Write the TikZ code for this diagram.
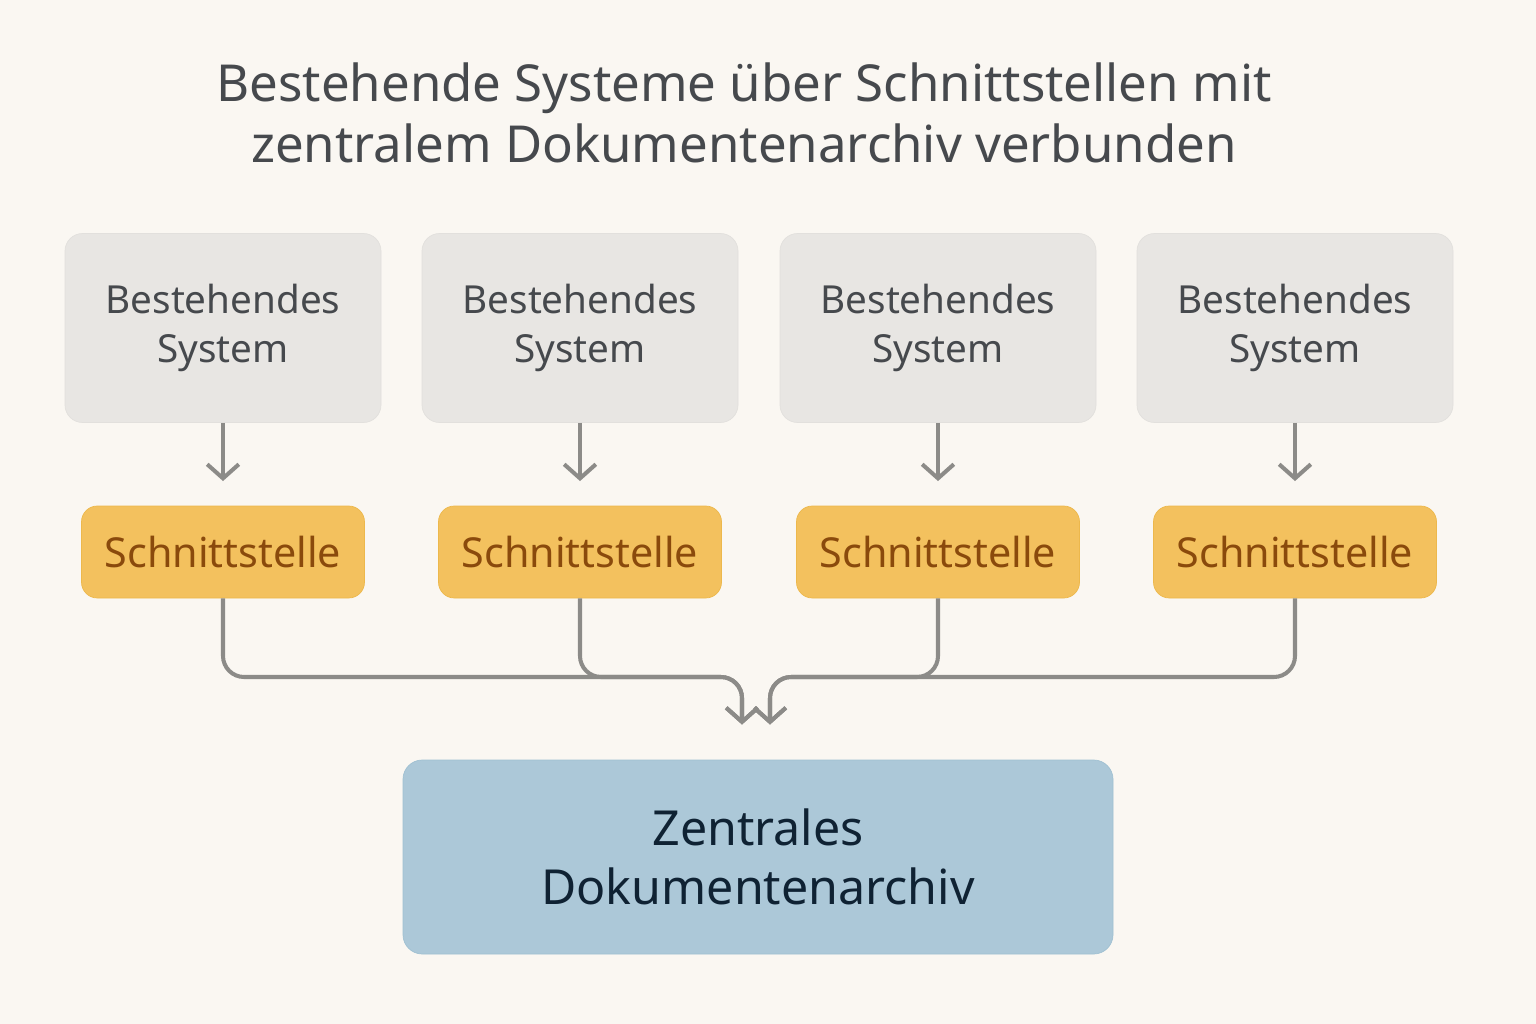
\documentclass[tikz,border=0pt]{standalone}
\usepackage{fontspec}
\setmainfont{Noto Sans}
\usetikzlibrary{arrows.meta}
\definecolor{bgc}{HTML}{FAF7F2}
\definecolor{sysfill}{HTML}{E8E6E3}
\definecolor{sysborder}{HTML}{E2E0DD}
\definecolor{txtc}{HTML}{46494D}
\definecolor{iffill}{HTML}{F3C15E}
\definecolor{ifborder}{HTML}{EDB84C}
\definecolor{iftxt}{HTML}{8A4A0C}
\definecolor{arcfill}{HTML}{ACC8D8}
\definecolor{arcborder}{HTML}{9FC0D2}
\definecolor{arctxt}{HTML}{0F2233}
\definecolor{linec}{HTML}{8C8B88}
\tikzset{
  sysbox/.style={rectangle, rounded corners=10pt, fill=sysfill, draw=sysborder, minimum width=316*0.02cm, minimum height=189*0.02cm, align=center, text=txtc, font=\fontsize{22}{28}\selectfont},
  ifbox/.style={rectangle, rounded corners=9pt, fill=iffill, draw=ifborder, minimum width=283*0.02cm, minimum height=92*0.02cm, text=iftxt, font=\fontsize{23.5}{29}\selectfont},
  arcbox/.style={rectangle, rounded corners=11pt, fill=arcfill, draw=arcborder, minimum width=710*0.02cm, minimum height=194*0.02cm, align=center, text=arctxt, font=\fontsize{27.5}{34}\selectfont},
  conn/.style={draw=linec, line width=2.3pt, -{Straight Barb[length=8pt,width=18pt,line width=2.3pt]}},
  bus/.style={conn, rounded corners=12pt}
}
\begin{document}
\begin{tikzpicture}[x=0.02cm,y=0.02cm]
\fill[bgc] (0,0) rectangle (1536,-1024);
\useasboundingbox (0,0) rectangle (1536,-1024);
\node[text=txtc, font=\fontsize{29}{35}\selectfont, align=center] (title) at (744,-113) {Bestehende Systeme über Schnittstellen mit\\zentralem Dokumentenarchiv verbunden};
\foreach \x [count=\i] in {223,580,938,1295} {
  \node[sysbox] (sys\i) at (\x,-328) {Bestehendes\\System};
  \node[ifbox] (if\i) at (\x,-552) {Schnittstelle};
  \draw[conn] (sys\i.south) -- ([yshift=14]if\i.north);
}
\node[arcbox] (arc) at (758,-857) {Zentrales\\Dokumentenarchiv};
\coordinate (jl) at (742,-677);
\coordinate (jr) at (770,-677);
\draw[bus] (if1.south) |- (jl) -- ([yshift=20]arc.north -| jl);
\draw[bus] (if2.south) |- (jl) -- ([yshift=20]arc.north -| jl);
\draw[bus] (if4.south) |- (jr) -- ([yshift=20]arc.north -| jr);
\draw[bus] (if3.south) |- (jr) -- ([yshift=20]arc.north -| jr);
\end{tikzpicture}
\end{document}
